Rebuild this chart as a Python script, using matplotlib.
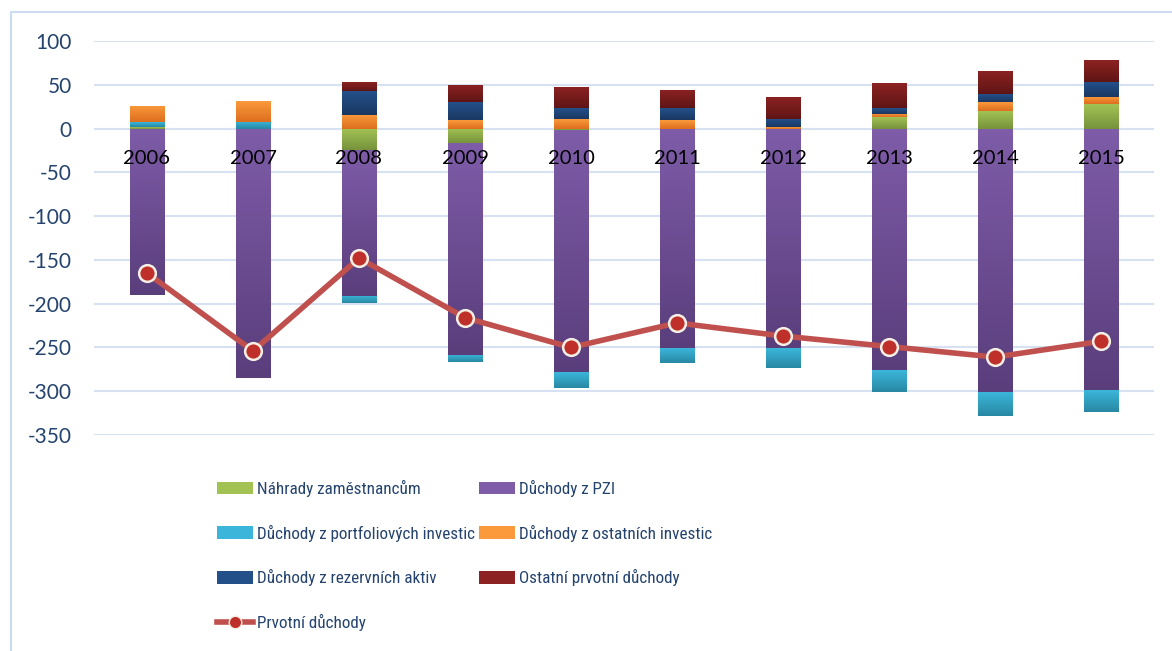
"""Prvotní důchody – stacked components with total line."""
import matplotlib
matplotlib.use("Agg")
import matplotlib.pyplot as plt
import numpy as np
from matplotlib import font_manager
from matplotlib.colors import LinearSegmentedColormap
from matplotlib.lines import Line2D
from matplotlib.patches import Patch

years = ["2006", "2007", "2008", "2009", "2010", "2011", "2012", "2013", "2014", "2015"]
nahrady = [2, -1, -25, -16, -2, 0, 0, 13, 20, 28]
pzi = [-190, -284, -166, -243, -276, -251, -251, -276, -301, -299]
portfolio = [5, 8, -8, -8, -18, -17, -22, -25, -27, -25]
ostatni_inv = [19, 23, 16, 10, 11, 10, 1.5, 4, 10, 8]
rezervni = [0, 0, 27, 20, 12, 13, 9, 6.5, 9, 17]
ostatni_prv = [0, 0, 10, 20, 24, 21, 26, 28, 27, 25]
prvotni = [-165, -254, -148, -216, -250, -222, -237, -249, -261, -243]

labels = [
    "Náhrady zaměstnancům",
    "Důchody z PZI",
    "Důchody z portfoliových investic",
    "Důchody z ostatních investic",
    "Důchody z rezervních aktiv",
    "Ostatní prvotní důchody",
]
line_label = "Prvotní důchody"
# (top, bottom) gradient colours per series
colors = [
    ("#A2C254", "#76933C"),
    ("#7E5CA8", "#5A3E7C"),
    ("#3BB6DA", "#2888A3"),
    ("#FA9A3C", "#DD6E1E"),
    ("#24508A", "#1A3862"),
    ("#8C2222", "#601515"),
]

# pick a narrow font for the legend if one is installed
entries = font_manager.fontManager.ttflist
names = {f.name for f in entries}
legend_prop = {"family": ["Lato", "DejaVu Sans"], "size": 11}
for nm in ["Liberation Sans Narrow", "Roboto Condensed", "Open Sans Condensed",
           "DejaVu Sans Condensed", "Noto Sans Condensed"]:
    if nm in names:
        legend_prop = {"family": [nm, "DejaVu Sans"], "size": 12.3}
        break
else:
    for f in entries:
        if f.name in ("Roboto", "Open Sans", "Noto Sans", "DejaVu Sans") and \
                str(f.stretch) in ("condensed", "semi-condensed", "500", "600"):
            legend_prop = {"family": [f.name, "DejaVu Sans"], "size": 12.3,
                           "stretch": f.stretch}
            break

plt.rcParams["font.family"] = ["Lato", "DejaVu Sans"]
plt.rcParams["axes.unicode_minus"] = False

W, H = 1172, 651
fig = plt.figure(figsize=(W / 100, H / 100), dpi=100)
ax = fig.add_axes([94 / W, 1 - 435 / H, (1154 - 94) / W, (435 - 41) / H])

x = np.arange(len(years))
width = 0.33
series = [nahrady, pzi, portfolio, ostatni_inv, rezervni, ostatni_prv]
pos_bottom = np.zeros(len(years))
neg_bottom = np.zeros(len(years))
grad = np.linspace(1, 0, 64).reshape(-1, 1)

for vals, (c_top, c_bot) in zip(series, colors):
    vals = np.asarray(vals, dtype=float)
    bottoms = np.where(vals >= 0, pos_bottom, neg_bottom)
    bars = ax.bar(x, vals, width, bottom=bottoms, color=c_bot, linewidth=0, zorder=2)
    cmap = LinearSegmentedColormap.from_list("g", [c_bot, c_top])
    for rect in bars:
        h = rect.get_height()
        if h == 0:
            continue
        x0, y0 = rect.get_x(), rect.get_y()
        y_lo, y_hi = min(y0, y0 + h), max(y0, y0 + h)
        im = ax.imshow(grad, cmap=cmap, aspect="auto", origin="upper",
                       extent=(x0, x0 + rect.get_width(), y_lo, y_hi),
                       vmin=0, vmax=1, zorder=2.1)
        im.set_clip_path(rect)
    pos_bottom += np.where(vals > 0, vals, 0)
    neg_bottom += np.where(vals < 0, vals, 0)

ax.plot(x, prvotni, color="#C0504D", lw=4, marker="o", markersize=12,
        markerfacecolor="#C0302B", markeredgecolor="#F4EFE4", markeredgewidth=1.8,
        zorder=5, solid_capstyle="round")

for i, yr in enumerate(years):
    ax.text(i, -34, yr, ha="center", va="center", fontsize=14.5, color="black", zorder=6)

ax.set_xlim(-0.5, len(years) - 0.5)
ax.set_ylim(-350, 100)
ax.set_yticks(np.arange(-350, 101, 50))
ax.set_xticks([])
ax.tick_params(axis="y", length=0, pad=16, labelsize=15, labelcolor="#24436E")
ax.grid(axis="y", color="#D6E2F2", lw=1.5, zorder=0)
ax.set_axisbelow(True)
for s in ax.spines.values():
    s.set_visible(False)

# outer chart border
fig.add_artist(Line2D([11 / W, 11 / W, 1.0], [0.0, 1 - 12 / H, 1 - 12 / H],
                      color="#CCDCF0", lw=1.5))

# legend: two hand-placed columns
fs_px = legend_prop["size"] * 100 / 72
leg_kw = dict(loc="upper left", frameon=False, borderpad=0, borderaxespad=0,
              handlelength=36 / fs_px, handleheight=13 / fs_px,
              handletextpad=4 / fs_px, labelspacing=(45.5 - 1.05 * fs_px) / fs_px,
              prop=legend_prop)
col1 = [
    Patch(facecolor=colors[0][0]),
    Patch(facecolor=colors[2][0]),
    Patch(facecolor=colors[4][0]),
    Line2D([], [], color="#C0504D", lw=4, marker="o", markersize=9,
           markerfacecolor="#C0302B", markeredgecolor="#F4EFE4"),
]
col2 = [Patch(facecolor=colors[1][0]), Patch(facecolor=colors[3][0]),
        Patch(facecolor=colors[5][0])]
leg1 = fig.legend(col1, [labels[0], labels[2], labels[4], line_label],
                  bbox_to_anchor=(217 / W, 1 - 480 / H), **leg_kw)
leg2 = fig.legend(col2, [labels[1], labels[3], labels[5]],
                  bbox_to_anchor=(479 / W, 1 - 480 / H), **leg_kw)
for leg in (leg1, leg2):
    for t in leg.get_texts():
        t.set_color("#24436E")

fig.savefig("out.png", dpi=100)
